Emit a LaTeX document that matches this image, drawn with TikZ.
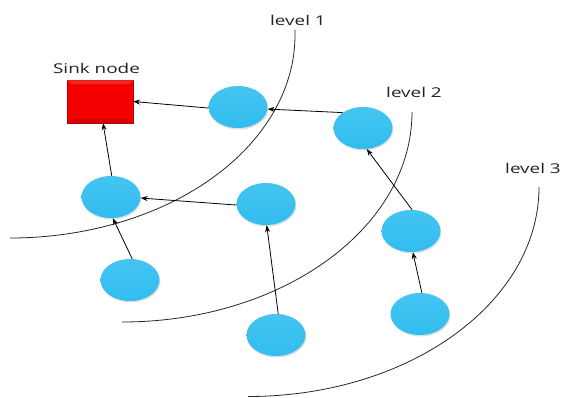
\documentclass[tikz,border=0pt]{standalone}
\usepackage{fontspec}
\setmainfont{Open Sans}
\usetikzlibrary{shadows,arrows.meta,calc,shapes.geometric}
\definecolor{ballmid}{HTML}{12A6E0}
\definecolor{balltop}{HTML}{45C4F0}
\definecolor{ballbot}{HTML}{30BDF0}
\definecolor{sinkred}{HTML}{F50000}
\definecolor{txtcol}{HTML}{222222}
\tikzset{
  ball/.style={ellipse, minimum width=59pt, minimum height=42pt, inner sep=0pt,
    top color=balltop, middle color=ballmid, bottom color=ballbot,
    drop shadow={shadow xshift=0.8pt, shadow yshift=-1.5pt, opacity=0.25}},
  sinkbox/.style={rectangle, minimum width=66pt, minimum height=43pt, inner sep=0pt,
    fill=sinkred, draw=red!75!black, line width=0.3pt,
    drop shadow={shadow xshift=0.8pt, shadow yshift=-1.5pt, opacity=0.25}},
  lbl/.style={font=\fontsize{13.5pt}{15pt}\selectfont, text=txtcol, anchor=base, xscale=1.4, transform shape, inner sep=0pt},
  link/.style={-{Stealth[length=7pt,width=5pt]}, line width=0.8pt, black},
  levelarc/.style={line width=0.8pt, black!85}
}
\begin{document}
\begin{tikzpicture}[x=1pt,y=1pt]
\useasboundingbox (0,0) rectangle (567,-398);
% level arcs
\draw[levelarc] (294.9,-29.7) arc[start angle=1.5, end angle=-90, x radius=285, y radius=203];
\draw[levelarc] (412,-112) arc[start angle=0, end angle=-90, x radius=290, y radius=210];
\draw[levelarc] (539,-187) arc[start angle=0, end angle=-90, x radius=291, y radius=209.5];
% labels
\node[lbl] (l1) at (298,-25.7) {level 1};
\node[lbl] (l2) at (414,-98) {level 2};
\node[lbl] (l3) at (533,-174) {level 3};
\node[lbl] (sl) at (96.5,-74) {Sink node};
% nodes
\node[sinkbox] (sink) at (100,-101.5) {};
\fill[red!60!white, opacity=0.35] (sink.north west) -- ++(4,-4) -- ($(sink.north east)+(-4,-4)$) -- (sink.north east) -- cycle;
\fill[red!50!black, opacity=0.25] (sink.south west) -- ++(4,4) -- ($(sink.south east)+(-4,4)$) -- (sink.south east) -- cycle;
\node[ball] (a1) at (238,-107) {};
\node[ball] (a2) at (363,-128) {};
\node[ball] (b1) at (111,-197) {};
\node[ball] (b2) at (266,-204) {};
\node[ball] (b3) at (130,-280) {};
\node[ball] (d)  at (276,-335) {};
\node[ball] (c1) at (411,-231) {};
\node[ball] (c2) at (420,-314) {};
% links
\draw[link] (a1.182) -- (sink.east);
\draw[link] (a2.143) -- (a1.-4);
\draw[link] (b1.88) -- (sink.-82);
\draw[link] (b2.182) -- (b1.-2);
\draw[link] (b3.84) -- (b1.-85);
\draw[link] (d.84) -- (b2.-88);
\draw[link] (c1.87) -- (a2.-80);
\draw[link] (c2.85) -- (c1.-85);
\end{tikzpicture}
\end{document}
